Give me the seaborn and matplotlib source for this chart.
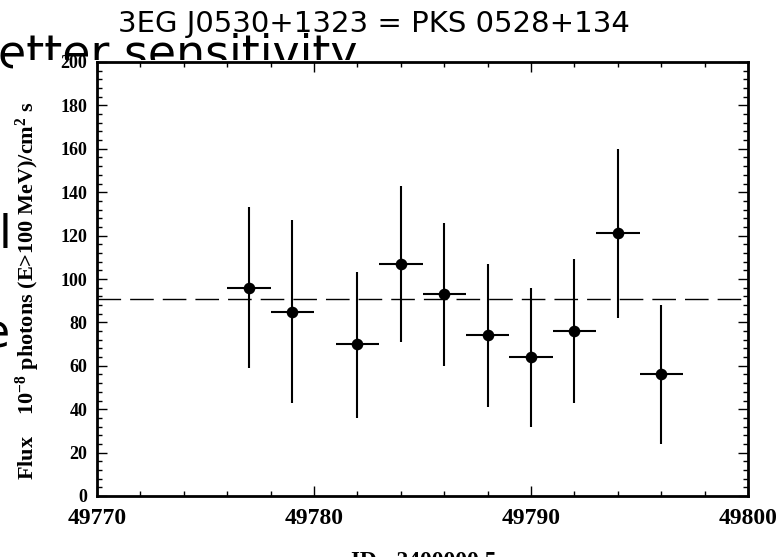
"""Light curve of 3EG J0530+1323 (PKS 0528+134), EGRET flux per 2-day bin."""
import matplotlib
matplotlib.use("Agg")
import matplotlib.pyplot as plt
from matplotlib.patches import Rectangle
from matplotlib.ticker import MultipleLocator
import numpy as np
import seaborn as sns

# data
jd = [49777, 49779, 49782, 49784, 49786, 49788, 49790, 49792, 49794, 49796]
flux = [96, 85, 70, 107, 93, 74, 64, 76, 121, 56]
flux_hi = [133, 127, 103, 143, 126, 107, 96, 109, 160, 88]
flux_lo = [59, 43, 36, 71, 60, 41, 32, 43, 82, 24]
half_bin = [1, 1, 1, 1, 1, 1, 1, 1, 1, 1]
mean_flux = 91

title = "3EG J0530+1323 = PKS 0528+134"
xlabel = "JD - 2400000.5"
ylabel = r"Flux    $\mathrm{10}^{-8}$ photons (E>100 MeV)/cm$^{\mathrm{2}}$ s"

sns.set_theme(style="ticks")
plt.rcParams["font.family"] = ["Liberation Serif", "DejaVu Serif"]
plt.rcParams["font.weight"] = "bold"
plt.rcParams["axes.labelweight"] = "bold"
plt.rcParams["text.color"] = "black"
plt.rcParams["axes.labelcolor"] = "black"
plt.rcParams["xtick.color"] = "black"
plt.rcParams["ytick.color"] = "black"
plt.rcParams["mathtext.fontset"] = "custom"
plt.rcParams["mathtext.rm"] = "Liberation Serif:bold"
plt.rcParams["mathtext.it"] = "Liberation Serif:bold"
plt.rcParams["mathtext.bf"] = "Liberation Serif:bold"

W, H = 777, 557
fig = plt.figure(figsize=(W / 100, H / 100), dpi=100)
fig.patch.set_facecolor("white")

# slide text peeking from behind the pasted chart
slide_kw = dict(family="DejaVu Sans", weight="normal", color="black", zorder=-3)
fig.text(-2 / W, 1 - 68 / H, "etter sensitivity", fontsize=33, va="baseline", ha="left", **slide_kw)
fig.text(-1 / W, 1 - 248 / H, "l", fontsize=33, va="baseline", ha="left", **slide_kw)
fig.text(-18 / W, 1 - 347 / H, "e", fontsize=33, va="baseline", ha="left", **slide_kw)
fig.patches.append(Rectangle((13 / W, 0), 1, 1 - 60 / H, transform=fig.transFigure,
                             facecolor="white", edgecolor="none", zorder=-2))

fig.text(374 / W, 1 - 32 / H, title, fontsize=21, family="DejaVu Sans",
         weight="normal", color="black", ha="center", va="baseline")

ax = fig.add_axes([97 / W, 1 - 496 / H, (748 - 97) / W, (496 - 62) / H])
ax.set_zorder(0)

yerr = np.array([np.subtract(flux, flux_lo), np.subtract(flux_hi, flux)])
ax.errorbar(jd, flux, xerr=half_bin, yerr=yerr, fmt="none", ecolor="black",
            elinewidth=1.5, capsize=0, zorder=2)
sns.scatterplot(x=jd, y=flux, ax=ax, color="black", s=70, edgecolor="black",
                linewidth=0, zorder=3)
ax.axhline(mean_flux, color="black", lw=1.0, dashes=(17, 6.5), zorder=1)

ax.set_xlim(49770, 49800)
ax.set_ylim(0, 200)
ax.xaxis.set_major_locator(MultipleLocator(10))
ax.xaxis.set_minor_locator(MultipleLocator(2))
ax.yaxis.set_major_locator(MultipleLocator(20))
ax.yaxis.set_minor_locator(MultipleLocator(4))
ax.tick_params(which="both", direction="in", top=True, right=True, color="black", width=1)
ax.tick_params(which="major", length=7)
ax.tick_params(which="minor", length=3.6)
ax.tick_params(axis="x", labelsize=17, pad=9, labelcolor="black")
ax.tick_params(axis="y", labelsize=13, pad=7, labelcolor="black")
for side in ["left", "right", "top", "bottom"]:
    ax.spines[side].set_visible(True)
    ax.spines[side].set_linewidth(2)
    ax.spines[side].set_color("black")

ax.set_xlabel(xlabel, fontsize=17, fontweight="bold", color="black")
ax.xaxis.set_label_coords(0.5, (496 - 551) / (496 - 62))
ax.set_ylabel(ylabel, fontsize=16, fontweight="bold", color="black")
ax.yaxis.set_label_coords((42 - 97) / (748 - 97), (496 - 291) / (496 - 62))

fig.savefig("out.png", dpi=100)
plt.close(fig)
